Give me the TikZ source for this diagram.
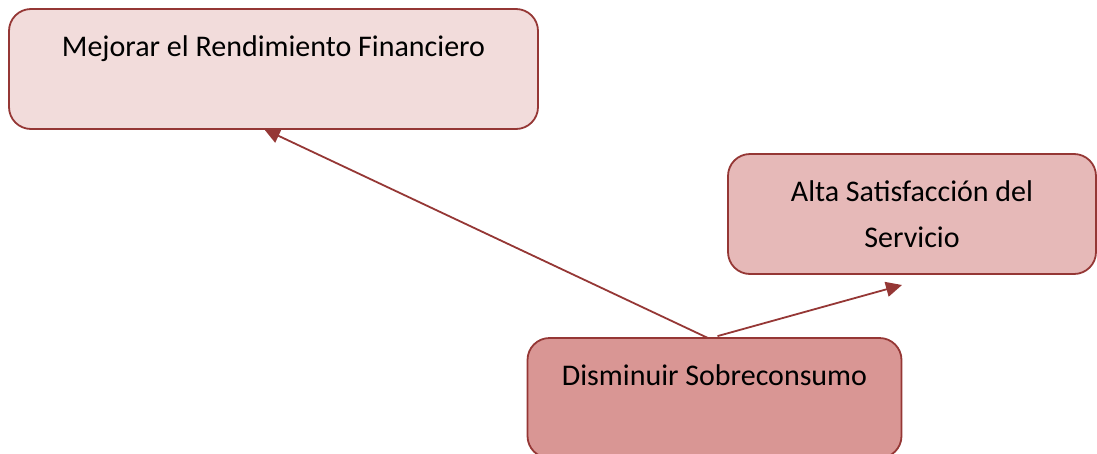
\documentclass[tikz,border=0pt]{standalone}
\usepackage{fontspec}
\setmainfont{Carlito}
\usetikzlibrary{arrows.meta,backgrounds}
\definecolor{borde}{HTML}{953735}
\definecolor{rosa1}{HTML}{F2DCDB}
\definecolor{rosa2}{HTML}{E6B9B8}
\definecolor{rosa3}{HTML}{D99694}
\begin{document}
\begin{tikzpicture}[x=1pt,y=-1pt,
		obj node/.style={rectangle,rounded corners=22pt,draw=borde,line width=1.8pt,
			align=center,inner sep=0pt,minimum height=120pt,
			font=\fontsize{30}{46}\selectfont},
		flecha/.style={draw=borde,line width=1.8pt,-{Triangle[length=16pt,width=15pt]}}]
	\useasboundingbox (0,0) rectangle (1097,453);

	\node[obj node,fill=rosa1,minimum width=529pt] (rend) at (273.5,69) {Mejorar el Rendimiento Financiero\\ \mbox{}};
	\node[obj node,fill=rosa2,minimum width=368pt] (satis) at (912,214) {Alta Satisfacción del\\Servicio};
	\node[obj node,fill=rosa3,minimum width=374pt] (sobre) at (714.5,398) {Disminuir Sobreconsumo\\ \mbox{}};

	\coordinate (p1) at (264,129);
	\coordinate (p2) at (902,285);
	\begin{scope}[on background layer]
		\path[flecha] (sobre.north) ++(0,4) -- (p1);
		\path[flecha] (sobre.north) ++(3,-1) -- (p2);
	\end{scope}
\end{tikzpicture}
\end{document}
